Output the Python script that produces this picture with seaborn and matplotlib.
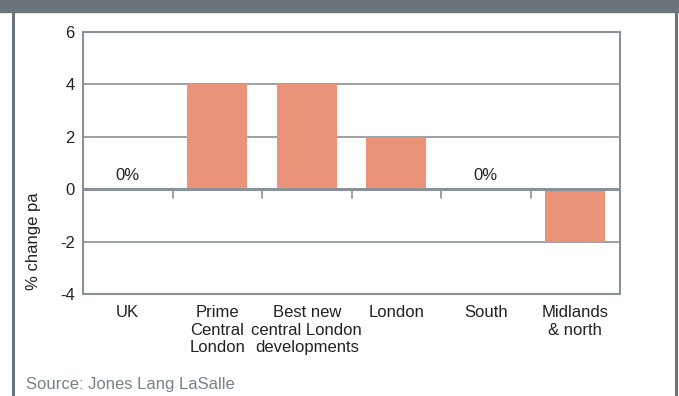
import matplotlib
matplotlib.use("Agg")
import matplotlib.pyplot as plt
import seaborn as sns
import pandas as pd
from matplotlib import font_manager
from matplotlib.patches import Rectangle
from matplotlib.lines import Line2D

categories = ["UK", "Prime\nCentral\nLondon", "Best new\ncentral London\ndevelopments",
              "London", "South", "Midlands\n& north"]
values = [0, 4, 4, 2, 0, -2]
zero_labels = ["0%", "", "", "", "0%", ""]
yticks = [-4, -2, 0, 2, 4, 6]

sns.set_theme(style="white")
names = {f.name for f in font_manager.fontManager.ttflist}
fam = "Liberation Sans Narrow" if "Liberation Sans Narrow" in names else "Liberation Sans"
plt.rcParams["font.family"] = [fam, "DejaVu Sans"]

frame_col = "#6b737b"
grid_col = "#8a9198"
bar_col = "#ea9379"
text_col = "#222222"

fig = plt.figure(figsize=(6.79, 3.96), dpi=100)
ax = fig.add_axes([83 / 679, 1 - 294 / 396, (620 - 83) / 679, (294 - 32) / 396])

df = pd.DataFrame({"cat": categories, "val": values})
sns.barplot(data=df, x="cat", y="val", color=bar_col, saturation=1, width=0.67,
            linewidth=0, ax=ax, zorder=3)

ax.set_ylim(-4, 6)
ax.set_xlim(-0.5, len(categories) - 0.5)
ax.set_yticks(yticks)
ax.set_yticklabels([str(t) for t in yticks])
for t in yticks[1:-1]:
    if t != 0:
        ax.axhline(t, color=grid_col, lw=1.2, zorder=1)
ax.axhline(0, color=grid_col, lw=2.2, zorder=4)
for i in range(1, len(categories)):
    ax.plot([i - 0.5, i - 0.5], [0, -0.33], color=grid_col, lw=1.2, zorder=4, clip_on=False)

for s in ax.spines.values():
    s.set_color(grid_col)
    s.set_linewidth(1.5)

ax.tick_params(axis="both", length=0, labelsize=12, labelcolor=text_col, pad=6)
ax.tick_params(axis="x", pad=8)
ax.set_xlabel("")
ax.set_ylabel("% change pa", fontsize=12, color=text_col)
ax.yaxis.set_label_coords(-0.078, 0.2)

for i, lab in enumerate(zero_labels):
    if lab:
        ax.text(i, 0.25, lab, ha="center", va="bottom", fontsize=12, color=text_col, zorder=5)

# frame around figure
fig.patches.append(Rectangle((0, 1 - 12 / 396), 1, 12 / 396, transform=fig.transFigure,
                             color=frame_col, zorder=0))
fig.lines.append(Line2D([13 / 679, 13 / 679], [0, 1], transform=fig.transFigure,
                        color=frame_col, lw=2.2))
fig.lines.append(Line2D([676 / 679, 676 / 679], [0, 1], transform=fig.transFigure,
                        color=frame_col, lw=2.2))

fig.text(26 / 679, 1 - 385 / 396, "Source: Jones Lang LaSalle", fontsize=12,
         color="#7a8087", va="center", ha="left")

fig.savefig("out.png", dpi=100)
